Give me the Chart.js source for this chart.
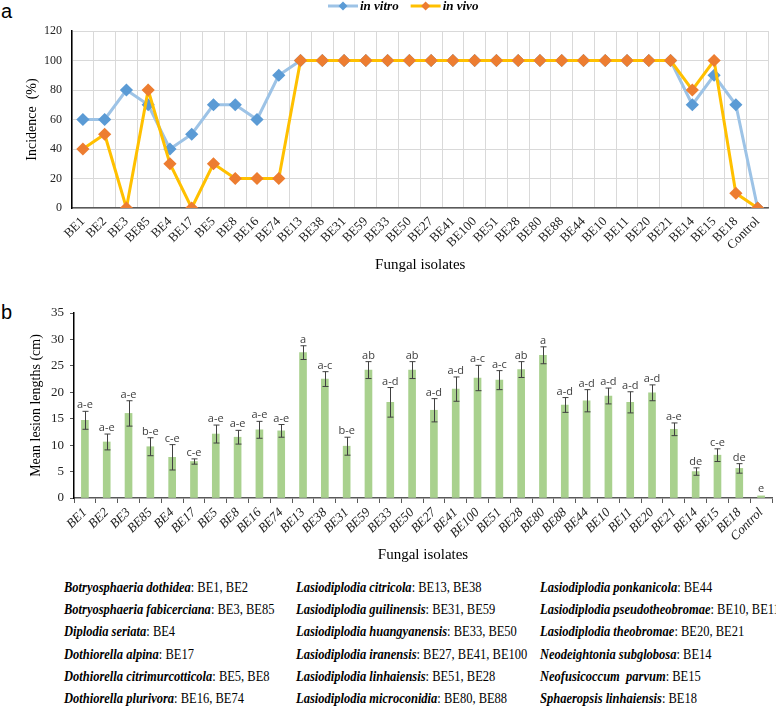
<!DOCTYPE html>
<html><head><meta charset="utf-8">
<script src="https://cdn.jsdelivr.net/npm/chart.js@4.4.1/dist/chart.umd.min.js"></script>
<style>
body{margin:0;background:#fff;width:776px;height:706px;position:relative;overflow:hidden;}
canvas{position:absolute;left:0;}
#ca{top:0;}
#cb{top:290px;}
.panel{position:absolute;font-family:"Liberation Sans",Arial,sans-serif;font-size:20px;line-height:20px;color:#000;}
.leg{position:absolute;font-family:"Liberation Serif","DejaVu Serif","Times New Roman",serif;font-size:12.5px;line-height:16px;color:#000;white-space:nowrap;transform:scaleY(1.12);transform-origin:0 50%;}
.leg b{font-style:italic;font-weight:bold;}
</style></head><body>
<div class="panel" style="left:1px;top:1px;">a</div>
<div class="panel" style="left:1px;top:302px;">b</div>
<canvas id="ca" width="776" height="278"></canvas>
<canvas id="cb" width="776" height="278"></canvas>
<div id="legendList"></div>
<script>
const isolates = ['BE1','BE2','BE3','BE85','BE4','BE17','BE5','BE8','BE16','BE74','BE13','BE38','BE31','BE59','BE33','BE50','BE27','BE41','BE100','BE51','BE28','BE80','BE88','BE44','BE10','BE11','BE20','BE21','BE14','BE15','BE18','Control'];
const inVitro = [60,60,80,70,40,50,70,70,60,90,100,100,100,100,100,100,100,100,100,100,100,100,100,100,100,100,100,100,70,90,70,0];
const inVivo  = [40,50,0,80,30,0,30,20,20,20,100,100,100,100,100,100,100,100,100,100,100,100,100,100,100,100,100,100,80,100,10,0];
const lesionMeans  = [14.7,10.6,16.0,9.7,7.7,6.9,12.1,11.5,12.9,12.7,27.5,22.5,9.8,24.2,18.1,24.2,16.6,20.6,22.7,22.3,24.3,27.0,17.6,18.4,19.3,18.1,19.9,13.0,5.0,8.1,5.6,0.4];
const lesionErrors = [1.7,1.5,2.4,1.7,2.4,0.5,1.7,1.3,1.6,1.2,1.3,1.4,1.7,1.6,2.8,1.6,2.2,2.3,2.4,1.8,1.5,1.6,1.4,2.1,1.5,2.0,1.5,1.2,0.7,1.2,0.9,0.1];
const lesionGroups = ['a-e','a-e','a-e','b-e','c-e','c-e','a-e','a-e','a-e','a-e','a','a-c','b-e','ab','a-d','ab','a-d','a-d','a-c','a-c','ab','a','a-d','a-d','a-d','a-d','a-d','a-e','de','c-e','de','e'];
const speciesNames = ['Botryosphaeria dothidea','Botryosphaeria fabicerciana','Diplodia seriata','Dothiorella alpina','Dothiorella citrimurcotticola','Dothiorella plurivora',
  'Lasiodiplodia citricola','Lasiodiplodia guilinensis','Lasiodiplodia huangyanensis','Lasiodiplodia iranensis','Lasiodiplodia linhaiensis','Lasiodiplodia microconidia',
  'Lasiodiplodia ponkanicola','Lasiodiplodia pseudotheobromae','Lasiodiplodia theobromae','Neodeightonia subglobosa','Neofusicoccum  parvum','Sphaeropsis linhaiensis'];
const speciesIsolates = ['BE1, BE2','BE3, BE85','BE4','BE17','BE5, BE8','BE16, BE74',
  'BE13, BE38','BE31, BE59','BE33, BE50','BE27, BE41, BE100','BE51, BE28','BE80, BE88',
  'BE44','BE10, BE11','BE20, BE21','BE14','BE15','BE18'];

// species legend (3 columns x 6 rows)
const colX = [64, 296, 540];
const ll = document.getElementById('legendList');
speciesNames.forEach((n,i)=>{
  const d = document.createElement('div');
  d.className='leg';
  d.style.left = colX[Math.floor(i/6)]+'px';
  d.style.top = (580 + (i%6)*22.2)+'px';
  d.innerHTML = '<b>'+n.replace(/  /g,'&nbsp; ')+'</b>: '+speciesIsolates[i];
  ll.appendChild(d);
});

const serif = '"Liberation Serif","DejaVu Serif","Times New Roman",serif';

const topLegend = {
  id:'topLegend',
  afterDraw(chart){
    const ctx = chart.ctx;
    ctx.save();
    ctx.font = 'italic bold 13px '+serif;
    ctx.textBaseline='middle';
    const y = 6;
    let x = 328;
    chart.data.datasets.forEach(ds=>{
      ctx.strokeStyle = ds.borderColor; ctx.lineWidth=3;
      ctx.beginPath(); ctx.moveTo(x,y); ctx.lineTo(x+30,y); ctx.stroke();
      ctx.fillStyle = ds.pointBackgroundColor;
      ctx.beginPath(); ctx.moveTo(x+15,y-4.5); ctx.lineTo(x+19.5,y); ctx.lineTo(x+15,y+4.5); ctx.lineTo(x+10.5,y); ctx.closePath(); ctx.fill();
      ctx.fillStyle='#000';
      ctx.fillText(ds.label, x+32, y+1);
      x += 32 + ctx.measureText(ds.label).width + 12;
    });
    ctx.restore();
  }
};

new Chart(document.getElementById('ca'), {
  type:'line',
  data:{labels:isolates, datasets:[
    {label:'in vitro', data:inVitro, borderColor:'#9dc3e6', pointBackgroundColor:'#5b9bd5', pointBorderColor:'#5b9bd5', pointStyle:'rectRot', pointRadius:4.5, borderWidth:3, tension:0, order:2},
    {label:'in vivo', data:inVivo, borderColor:'#ffc000', pointBackgroundColor:'#ed7d31', pointBorderColor:'#ed7d31', pointStyle:'rectRot', pointRadius:4.5, borderWidth:3, tension:0, order:1}
  ]},
  options:{
    responsive:false, animation:false, devicePixelRatio:1,
    layout:{padding:{top:31,right:2,left:0,bottom:0}},
    plugins:{legend:{display:false}, tooltip:{enabled:false}},
    scales:{
      x:{offset:true, grid:{offset:true, color:'#d9d9d9', drawTicks:false},
         border:{color:'#595959', width:1.5},
         ticks:{autoSkip:false, maxRotation:45, minRotation:45, font:{family:serif, size:13}, color:'#222', padding:6},
         title:{display:true, text:'Fungal isolates', font:{family:serif, size:15}, color:'#000', padding:{top:0,bottom:4}},
         afterFit(s){s.height=70;}},
      y:{min:0, max:120, ticks:{stepSize:20, font:{family:serif, size:12}, color:'#222', padding:10},
         grid:{color:'#d9d9d9', drawTicks:false}, border:{color:'#000', width:1.5},
         title:{display:true, text:'Incidence  (%)', font:{family:serif, size:14}, color:'#000', padding:{top:24,bottom:0}},
         afterFit(s){s.width=72;}}
    }
  },
  plugins:[topLegend]
});

const errorBars = {
  id:'errorBars',
  afterDatasetsDraw(chart){
    const ctx = chart.ctx, ys = chart.scales.y;
    const meta = chart.getDatasetMeta(0);
    ctx.save();
    ctx.strokeStyle='#404040'; ctx.lineWidth=1;
    meta.data.forEach((bar,i)=>{
      const x = Math.round(bar.x)+0.5;
      const t = ys.getPixelForValue(lesionMeans[i]+lesionErrors[i]);
      const b = ys.getPixelForValue(lesionMeans[i]-lesionErrors[i]);
      if (i < lesionMeans.length-1) {
        ctx.beginPath();
        ctx.moveTo(x,t); ctx.lineTo(x,b);
        ctx.moveTo(x-3,t); ctx.lineTo(x+3,t);
        ctx.moveTo(x-3,b); ctx.lineTo(x+3,b);
        ctx.stroke();
      }
      ctx.fillStyle='#404040';
      ctx.font='11px "Open Sans","Liberation Sans",sans-serif';
      ctx.textAlign='center'; ctx.textBaseline='alphabetic';
      ctx.fillText(lesionGroups[i], bar.x, t-3);
    });
    ctx.restore();
  }
};

new Chart(document.getElementById('cb'), {
  type:'bar',
  data:{labels:isolates, datasets:[{data:lesionMeans, backgroundColor:'#a9d18e', barThickness:7}]},
  options:{
    responsive:false, animation:false, devicePixelRatio:1,
    layout:{padding:{top:23,right:4,left:0,bottom:0}},
    plugins:{legend:{display:false}, tooltip:{enabled:false}},
    scales:{
      x:{offset:true, grid:{offset:true, drawOnChartArea:false, drawTicks:true, tickLength:5, color:'#595959'},
         border:{color:'#595959', width:1.5},
         ticks:{autoSkip:false, maxRotation:45, minRotation:45, font:{family:serif, size:13, style:'italic'}, color:'#222', padding:2},
         title:{display:true, text:'Fungal isolates', font:{family:serif, size:15}, color:'#000', padding:{top:0,bottom:4}},
         afterFit(s){s.height=70;}},
      y:{min:0, max:35, ticks:{stepSize:5, font:{family:serif, size:13}, color:'#222', padding:6},
         grid:{drawOnChartArea:false, tickLength:4, color:'#595959'}, border:{color:'#000', width:1.5},
         title:{display:true, text:'Mean lesion lengths (cm)', font:{family:serif, size:14}, color:'#000', padding:{top:28,bottom:0}},
         afterFit(s){s.width=74;}}
    }
  },
  plugins:[errorBars]
});
</script>
</body></html>
